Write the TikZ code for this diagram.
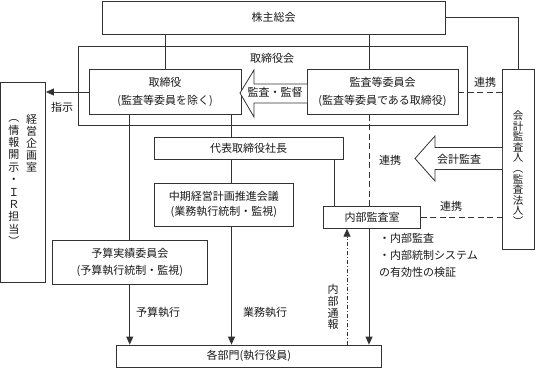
\documentclass[tikz,border=0pt]{standalone}
\usepackage{fontspec}
\newfontfamily\jp{Noto Sans CJK JP}
\usetikzlibrary{arrows.meta}
\lineskiplimit=-30pt
\tikzset{
  ln/.style={draw=black!80, line width=0.8pt},
  box/.style={ln, rectangle, inner sep=0pt, align=center, text=black!90},
  lbl/.style={inner sep=0pt, text=black!90},
  arr/.style={-{Triangle[length=8pt,width=7pt]}},
  dsh/.style={dash pattern=on 6pt off 3.5pt},
  dshdot/.style={dash pattern=on 4pt off 2pt on 1pt off 2pt},
  vtext/.style={lbl, align=center, anchor=north},
}
\begin{document}
\begin{tikzpicture}[x=1pt, y=-1pt, font=\jp\fontsize{11}{13}\selectfont]
\useasboundingbox (0,0) rectangle (536,368);
% helper x coordinates
\coordinate (c231) at (231.5,0);
\coordinate (c334) at (334.5,0);
\coordinate (c347) at (347,0);
\coordinate (c369) at (369,0);
% boxes
\node[box, minimum width=343pt, minimum height=33pt] (shu) at (273.5,17.5) {株主総会};
\node[box, minimum width=388.5pt, minimum height=79.5pt] (trb) at (272.75,85.75) {};
\node[lbl] (trbl) at (272,58.5) {取締役会};
\node[box, minimum width=152pt, minimum height=45pt, font=\jp\fontsize{11}{18.5}\selectfont] (tor) at (165,92) {取締役\\(監査等委員を除く)};
\node[box, minimum width=151pt, minimum height=45pt, font=\jp\fontsize{11}{18.5}\selectfont] (kan) at (382.5,92) {監査等委員会\\(監査等委員である取締役)};
\node[box, minimum width=32pt, minimum height=180pt] (kai) at (518,159) {};
\node[box, minimum width=45pt, minimum height=200pt] (kei) at (23,182) {};
\node[box, minimum width=189pt, minimum height=22pt] (dai) at (248.5,148.5) {代表取締役社長};
\node[box, minimum width=138.5pt, minimum height=43pt, font=\jp\fontsize{11}{14.5}\selectfont] (chu) at (223.75,204.5) {中期経営計画推進会議\\(業務執行統制・監視)};
\node[box, minimum width=155.5pt, minimum height=44.5pt, font=\jp\fontsize{11}{16.5}\selectfont] (yos) at (129.75,262.25) {予算実績委員会\\(予算執行統制・監視)};
\node[box, minimum width=97pt, minimum height=21.6pt] (nai) at (372,217.5) {内部監査室};
\node[box, minimum width=264.5pt, minimum height=22pt] (kak) at (248.75,356) {各部門(執行役員)};
% vertical texts
\node[vtext, font=\jp\fontsize{10.5}{10.6}\selectfont] (kait) at (518,110.5) {会\\計\\監\\査\\人\\︵\\監\\査\\法\\人\\︶};
\node[vtext, font=\jp\fontsize{11}{12}\selectfont] (keit1) at (31.5,114.5) {経\\営\\企\\画\\室};
\node[vtext, font=\jp\fontsize{11}{12.4}\selectfont] (keit2) at (14,119.5) {︵\\情\\報\\開\\示\\・\\Ｉ\\Ｒ\\担\\当\\︶};
\node[vtext, font=\jp\fontsize{11}{11.6}\selectfont] (tsuho) at (333,284.5) {内\\部\\通\\報};
% hollow arrows
\draw[ln, fill=white] (307,84) -- (254,84) -- (254,70) -- (240,93) -- (254,117) -- (254,103) -- (307,103);
\node[lbl] (kanshi) at (275,92.5) {監査・監督};
\draw[ln, fill=white] (502,147.5) -- (435,147.5) -- (435,136) -- (415,158.5) -- (435,181) -- (435,169.5) -- (502,169.5);
\node[lbl] (kaikei) at (459,159) {会計監査};
% connectors
\draw[ln] (shu.south -| tor.north) -- (tor.north);
\draw[ln] (shu.south -| c369) -- (kan.north -| c369);
\draw[ln] (shu.east) -- (shu.east -| kai.north) -- (kai.north);
\draw[ln, dsh] (kan.east) -- (kan.east -| kai.west);
\node[lbl] (ren1) at (485,82) {連携};
\draw[ln, arr] (tor.west) -- (tor.west -| kei.east);
\node[lbl] (shiji) at (62,107) {指示};
\draw[ln] (yos.north |- tor.south) -- (yos.north);
\draw[ln] (tor.south -| c231) -- (dai.north -| c231);
\draw[ln] (dai.south -| c231) -- (chu.north -| c231);
\draw[ln] (dai.south -| c334) -- (nai.north -| c334);
\draw[ln, dsh] (kan.south -| c369) -- (nai.north -| c369);
\node[lbl] (ren2) at (390,160) {連携};
\draw[ln, dsh] (nai.east) -- (nai.east -| kai.west);
\node[lbl] (ren3) at (451,206) {連携};
\draw[ln, arr] (yos.south) -- (yos.south |- kak.north);
\node[lbl] (yosan) at (158,312) {予算執行};
\draw[ln, arr] (chu.south -| c231) -- (kak.north -| c231);
\node[lbl] (gyomu) at (265,312) {業務執行};
\draw[ln, arr] (nai.south -| c369) -- (kak.north -| c369);
\draw[ln, dshdot, arr] (kak.north -| c347) -- (nai.south -| c347);
\node[lbl, anchor=north west, align=left, font=\jp\fontsize{11}{17}\selectfont] (bul) at (379,233) {・内部監査\\・内部統制システム\\の有効性の検証};
\end{tikzpicture}
\end{document}
